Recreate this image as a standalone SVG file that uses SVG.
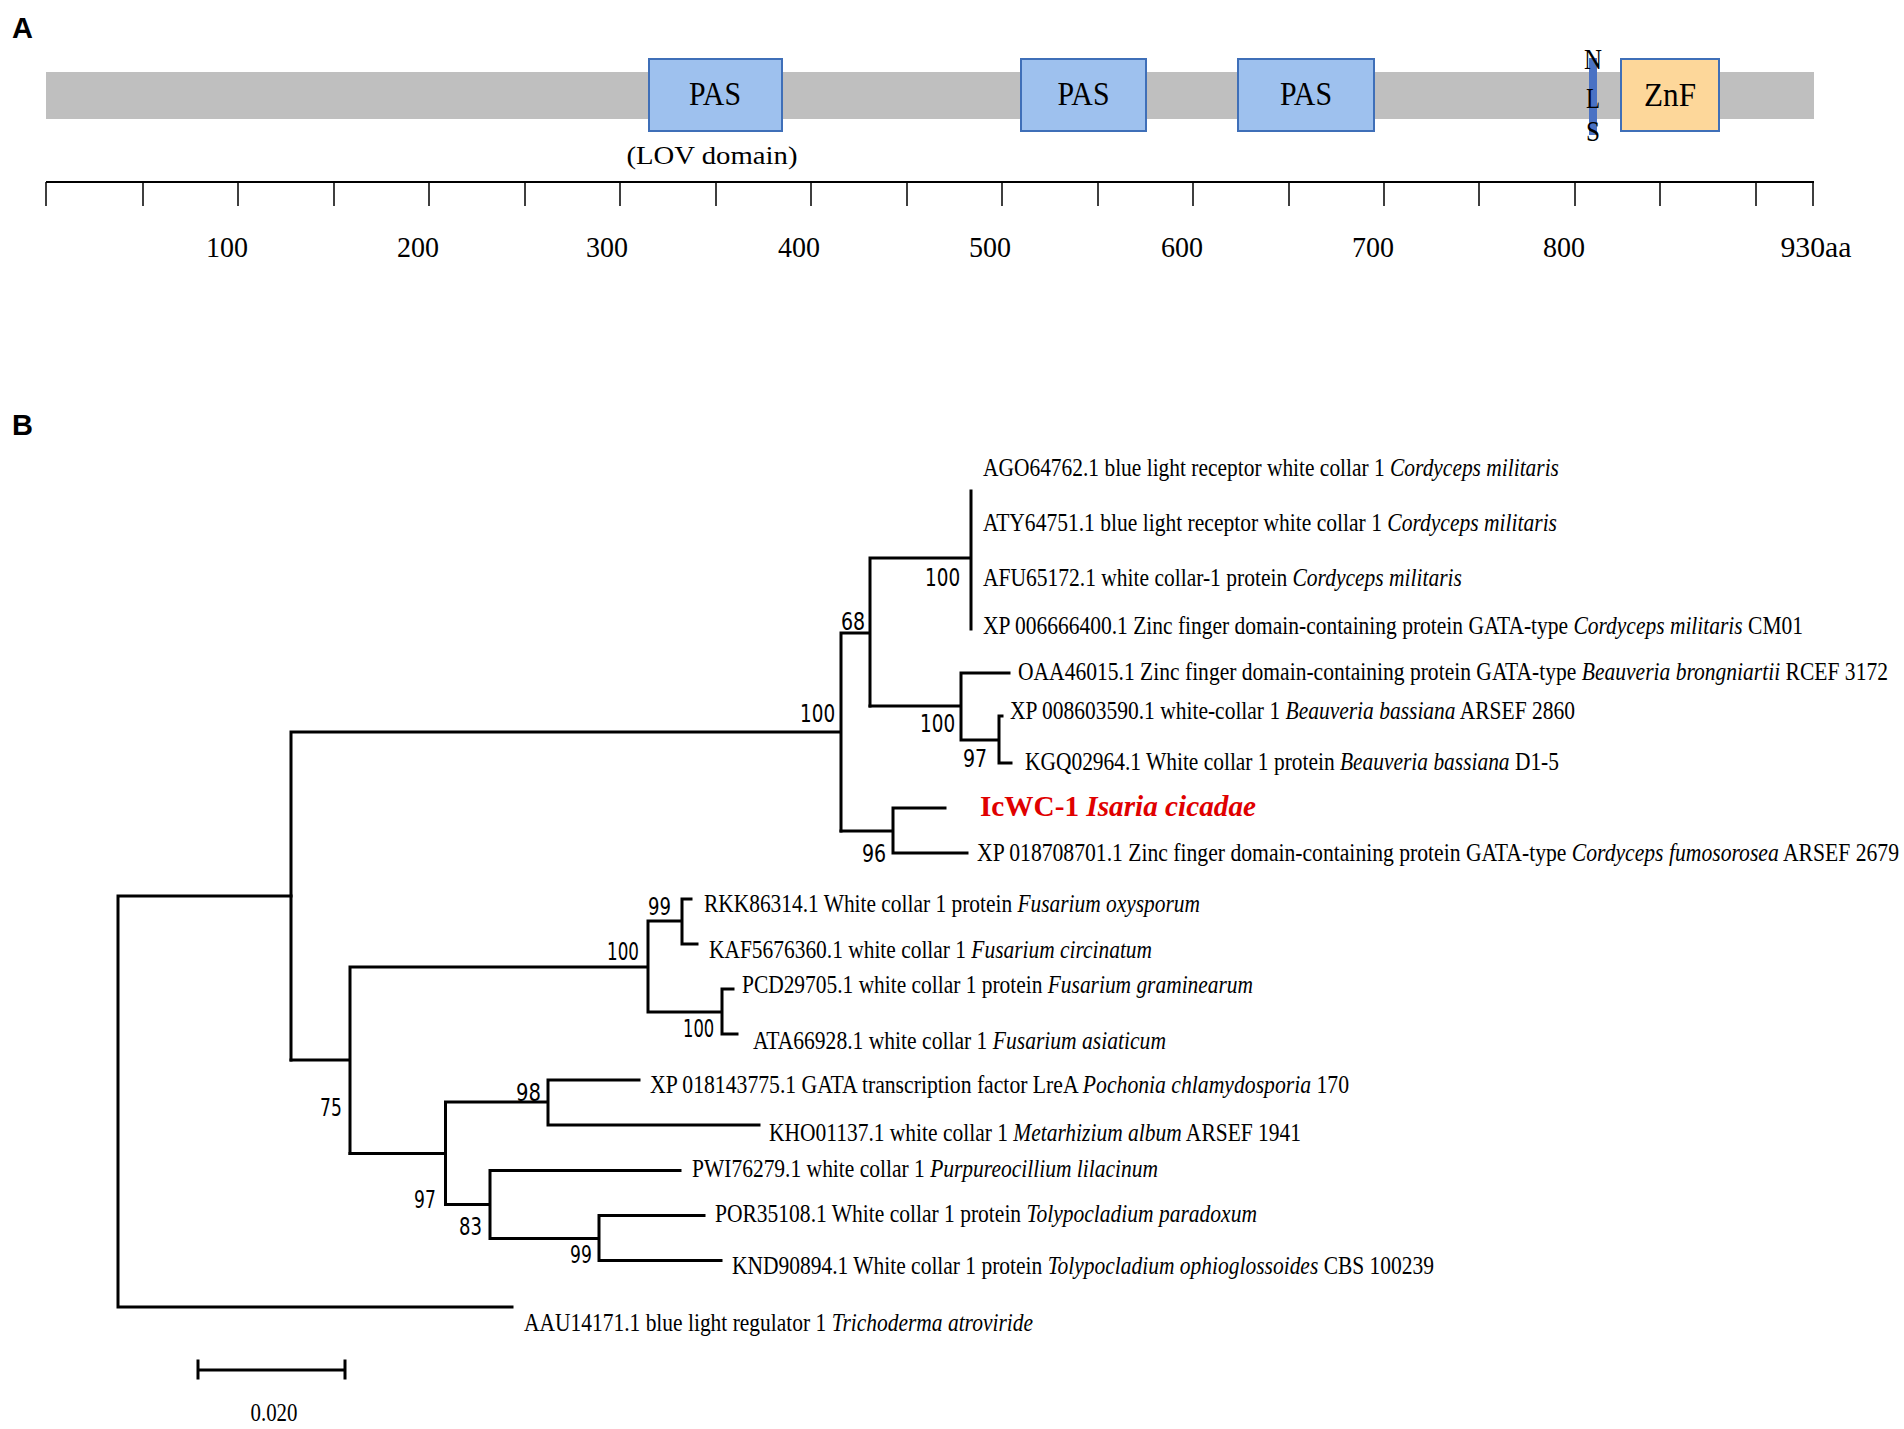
<svg xmlns="http://www.w3.org/2000/svg" width="1904" height="1429" viewBox="0 0 1904 1429">
<style>
.serif{font-family:"Liberation Serif","Times New Roman",serif;fill:#000}
.lab{font-family:"Liberation Serif","Times New Roman",serif;font-size:25px;fill:#000}
.bs{font-family:"DejaVu Sans","Liberation Sans",sans-serif;font-size:24px;fill:#000}
.panel{font-family:"Liberation Sans",Arial,sans-serif;font-size:29px;font-weight:bold;fill:#000}
.br{stroke:#000;stroke-width:3;fill:none;stroke-linecap:square}
.tick{stroke:#000;stroke-width:1.5}
.pas{fill:#9EC1EE;stroke:#3F6FB8;stroke-width:2}
.znf{fill:#FDD79A;stroke:#3F6FB8;stroke-width:2}
.it{font-style:italic}
</style>
<rect width="1904" height="1429" fill="#fff"/>

<!-- Panel A -->
<text class="panel" x="12" y="38">A</text>
<g id="protein-bar"><rect x="46" y="72" width="1768" height="47" fill="#BFBFBF"/></g>
<g id="pas1"><rect class="pas" x="649" y="59" width="133" height="72"/><text class="serif" x="715" y="105" font-size="33" text-anchor="middle" textLength="52" lengthAdjust="spacingAndGlyphs">PAS</text>
<text class="serif" x="712" y="164" font-size="26" text-anchor="middle" textLength="171" lengthAdjust="spacingAndGlyphs">(LOV domain)</text></g>
<g id="pas2"><rect class="pas" x="1021" y="59" width="125" height="72"/><text class="serif" x="1083.5" y="105" font-size="33" text-anchor="middle" textLength="52" lengthAdjust="spacingAndGlyphs">PAS</text></g>
<g id="pas3"><rect class="pas" x="1238" y="59" width="136" height="72"/><text class="serif" x="1306" y="105" font-size="33" text-anchor="middle" textLength="52" lengthAdjust="spacingAndGlyphs">PAS</text></g>
<g id="nls"><rect x="1589" y="58" width="8" height="77" fill="#4A72C4"/>
<text class="serif" x="1593" y="69" font-size="30" text-anchor="middle" textLength="18" lengthAdjust="spacingAndGlyphs">N</text>
<text class="serif" x="1593" y="108" font-size="30" text-anchor="middle" textLength="14" lengthAdjust="spacingAndGlyphs">L</text>
<text class="serif" x="1593" y="141" font-size="30" text-anchor="middle" textLength="14" lengthAdjust="spacingAndGlyphs">S</text></g>
<g id="znf"><rect class="znf" x="1621" y="59" width="98" height="72"/><text class="serif" x="1670" y="106" font-size="33" text-anchor="middle" textLength="52" lengthAdjust="spacingAndGlyphs">ZnF</text></g>

<g id="axis">
<line x1="46" y1="182" x2="1814" y2="182" stroke="#000" stroke-width="2"/>
<path class="tick" d="M46,182V206M143,182V206M238,182V206M334,182V206M429,182V206M525,182V206M620,182V206M716,182V206M811,182V206M907,182V206M1002,182V206M1098,182V206M1193,182V206M1289,182V206M1384,182V206M1479,182V206M1575,182V206M1660,182V206M1756,182V206M1813,182V206"/>
<g class="serif" font-size="30" text-anchor="middle">
<text x="227" y="257" textLength="42" lengthAdjust="spacingAndGlyphs">100</text>
<text x="418" y="257" textLength="42" lengthAdjust="spacingAndGlyphs">200</text>
<text x="607" y="257" textLength="42" lengthAdjust="spacingAndGlyphs">300</text>
<text x="799" y="257" textLength="42" lengthAdjust="spacingAndGlyphs">400</text>
<text x="990" y="257" textLength="42" lengthAdjust="spacingAndGlyphs">500</text>
<text x="1182" y="257" textLength="42" lengthAdjust="spacingAndGlyphs">600</text>
<text x="1373" y="257" textLength="42" lengthAdjust="spacingAndGlyphs">700</text>
<text x="1564" y="257" textLength="42" lengthAdjust="spacingAndGlyphs">800</text>
<text x="1816" y="257" textLength="71" lengthAdjust="spacingAndGlyphs">930aa</text>
</g>
</g>

<!-- Panel B -->
<text class="panel" x="12" y="435">B</text>

<g id="connectors" class="br">
<path d="M118,896V1307M118,896H291M118,1307H512"/>
<path d="M291,732V1060M291,732H841M841,633V831M841,633H870M870,558V706M870,558H971M971,491V629"/>
<path d="M870,706H961M961,673V740M961,673H1009M961,740H999M999,716V763M999,716H1002M999,763H1011"/>
<path d="M841,831H893M893,808V853M893,808H945M893,853H967"/>
<path d="M291,1060H350M350,967V1153.5M350,967H648M648,921V1012M648,921H682M682,899V944M682,899H691M682,944H697M648,1012H722M722,989V1034M722,989H733M722,1034H737"/>
<path d="M350,1153.5H445.5M445.5,1102V1204.5M445.5,1102H548M548,1080V1125M548,1080H639M548,1125H759"/>
<path d="M445.5,1204.5H490M490,1170.5V1238.5M490,1170.5H680M490,1238.5H599M599,1215.6V1260.6M599,1215.6H704M599,1260.6H721"/>
</g>

<g id="bootstrap">
<text class="bs" transform="translate(800,722) scale(0.78,1)" textLength="45" lengthAdjust="spacingAndGlyphs">100</text>
<text class="bs" transform="translate(841,630) scale(0.78,1)" textLength="31" lengthAdjust="spacingAndGlyphs">68</text>
<text class="bs" transform="translate(925,586) scale(0.78,1)" textLength="45" lengthAdjust="spacingAndGlyphs">100</text>
<text class="bs" transform="translate(920,732) scale(0.78,1)" textLength="45" lengthAdjust="spacingAndGlyphs">100</text>
<text class="bs" transform="translate(963,767) scale(0.78,1)" textLength="31" lengthAdjust="spacingAndGlyphs">97</text>
<text class="bs" transform="translate(862,862) scale(0.78,1)" textLength="31" lengthAdjust="spacingAndGlyphs">96</text>
<text class="bs" transform="translate(607,960) scale(0.78,1)" textLength="41" lengthAdjust="spacingAndGlyphs">100</text>
<text class="bs" transform="translate(648,915) scale(0.78,1)" textLength="29.5" lengthAdjust="spacingAndGlyphs">99</text>
<text class="bs" transform="translate(683,1037) scale(0.78,1)" textLength="40" lengthAdjust="spacingAndGlyphs">100</text>
<text class="bs" transform="translate(320,1116) scale(0.78,1)" textLength="28" lengthAdjust="spacingAndGlyphs">75</text>
<text class="bs" transform="translate(516,1101) scale(0.78,1)" textLength="32" lengthAdjust="spacingAndGlyphs">98</text>
<text class="bs" transform="translate(414,1208) scale(0.78,1)" textLength="28" lengthAdjust="spacingAndGlyphs">97</text>
<text class="bs" transform="translate(459,1235) scale(0.78,1)" textLength="29.5" lengthAdjust="spacingAndGlyphs">83</text>
<text class="bs" transform="translate(570,1263) scale(0.78,1)" textLength="28" lengthAdjust="spacingAndGlyphs">99</text>
</g>

<g id="taxa">
<g id="t1"><text class="lab" transform="translate(983,476) scale(0.85,1)" textLength="677.6" lengthAdjust="spacingAndGlyphs">AGO64762.1 blue light receptor white collar 1 <tspan class="it">Cordyceps militaris</tspan></text></g>
<g id="t2"><text class="lab" transform="translate(983,531) scale(0.85,1)" textLength="675.3" lengthAdjust="spacingAndGlyphs">ATY64751.1 blue light receptor white collar 1 <tspan class="it">Cordyceps militaris</tspan></text></g>
<g id="t3"><text class="lab" transform="translate(983,586) scale(0.85,1)" textLength="563.5" lengthAdjust="spacingAndGlyphs">AFU65172.1 white collar-1 protein <tspan class="it">Cordyceps militaris</tspan></text></g>
<g id="t4"><text class="lab" transform="translate(983,634) scale(0.85,1)" textLength="964.7" lengthAdjust="spacingAndGlyphs">XP 006666400.1 Zinc finger domain-containing protein GATA-type <tspan class="it">Cordyceps militaris</tspan> CM01</text></g>
<g id="t5"><text class="lab" transform="translate(1018,680) scale(0.85,1)" textLength="1023.5" lengthAdjust="spacingAndGlyphs">OAA46015.1 Zinc finger domain-containing protein GATA-type <tspan class="it">Beauveria brongniartii</tspan> RCEF 3172</text></g>
<g id="t6"><text class="lab" transform="translate(1010,719) scale(0.85,1)" textLength="664.7" lengthAdjust="spacingAndGlyphs">XP 008603590.1 white-collar 1 <tspan class="it">Beauveria bassiana</tspan> ARSEF 2860</text></g>
<g id="t7"><text class="lab" transform="translate(1025,770) scale(0.85,1)" textLength="628.2" lengthAdjust="spacingAndGlyphs">KGQ02964.1 White collar 1 protein <tspan class="it">Beauveria bassiana</tspan> D1-5</text></g>
<g id="t8"><text class="serif" x="980" y="816" font-size="29" font-weight="bold" style="fill:#E00000" textLength="276" lengthAdjust="spacingAndGlyphs">IcWC-1 <tspan class="it">Isaria cicadae</tspan></text></g>
<g id="t9"><text class="lab" transform="translate(977,861) scale(0.85,1)" textLength="1084.7" lengthAdjust="spacingAndGlyphs">XP 018708701.1 Zinc finger domain-containing protein GATA-type <tspan class="it">Cordyceps fumosorosea</tspan> ARSEF 2679</text></g>
<g id="t10"><text class="lab" transform="translate(704,912) scale(0.85,1)" textLength="583.5" lengthAdjust="spacingAndGlyphs">RKK86314.1 White collar 1 protein <tspan class="it">Fusarium oxysporum</tspan></text></g>
<g id="t11"><text class="lab" transform="translate(709,958) scale(0.85,1)" textLength="521.2" lengthAdjust="spacingAndGlyphs">KAF5676360.1 white collar 1 <tspan class="it">Fusarium circinatum</tspan></text></g>
<g id="t12"><text class="lab" transform="translate(742,993) scale(0.85,1)" textLength="601.2" lengthAdjust="spacingAndGlyphs">PCD29705.1 white collar 1 protein <tspan class="it">Fusarium graminearum</tspan></text></g>
<g id="t13"><text class="lab" transform="translate(753,1049) scale(0.85,1)" textLength="485.9" lengthAdjust="spacingAndGlyphs">ATA66928.1 white collar 1 <tspan class="it">Fusarium asiaticum</tspan></text></g>
<g id="t14"><text class="lab" transform="translate(650,1093) scale(0.85,1)" textLength="822.4" lengthAdjust="spacingAndGlyphs">XP 018143775.1 GATA transcription factor LreA <tspan class="it">Pochonia chlamydosporia</tspan> 170</text></g>
<g id="t15"><text class="lab" transform="translate(769,1141) scale(0.85,1)" textLength="625.9" lengthAdjust="spacingAndGlyphs">KHO01137.1 white collar 1 <tspan class="it">Metarhizium album</tspan> ARSEF 1941</text></g>
<g id="t16"><text class="lab" transform="translate(692,1177) scale(0.85,1)" textLength="548.2" lengthAdjust="spacingAndGlyphs">PWI76279.1 white collar 1 <tspan class="it">Purpureocillium lilacinum</tspan></text></g>
<g id="t17"><text class="lab" transform="translate(715,1222) scale(0.85,1)" textLength="637.6" lengthAdjust="spacingAndGlyphs">POR35108.1 White collar 1 protein <tspan class="it">Tolypocladium paradoxum</tspan></text></g>
<g id="t18"><text class="lab" transform="translate(732,1274) scale(0.85,1)" textLength="825.9" lengthAdjust="spacingAndGlyphs">KND90894.1 White collar 1 protein <tspan class="it">Tolypocladium ophioglossoides</tspan> CBS 100239</text></g>
<g id="t19"><text class="lab" transform="translate(524,1331) scale(0.85,1)" textLength="598.8" lengthAdjust="spacingAndGlyphs">AAU14171.1 blue light regulator 1 <tspan class="it">Trichoderma atroviride</tspan></text></g>
</g>

<g id="scalebar">
<path class="br" d="M198,1370H345M198,1361V1378M345,1361V1378"/>
<text class="serif" x="274" y="1421" font-size="25" text-anchor="middle" textLength="47" lengthAdjust="spacingAndGlyphs">0.020</text>
</g>
</svg>
